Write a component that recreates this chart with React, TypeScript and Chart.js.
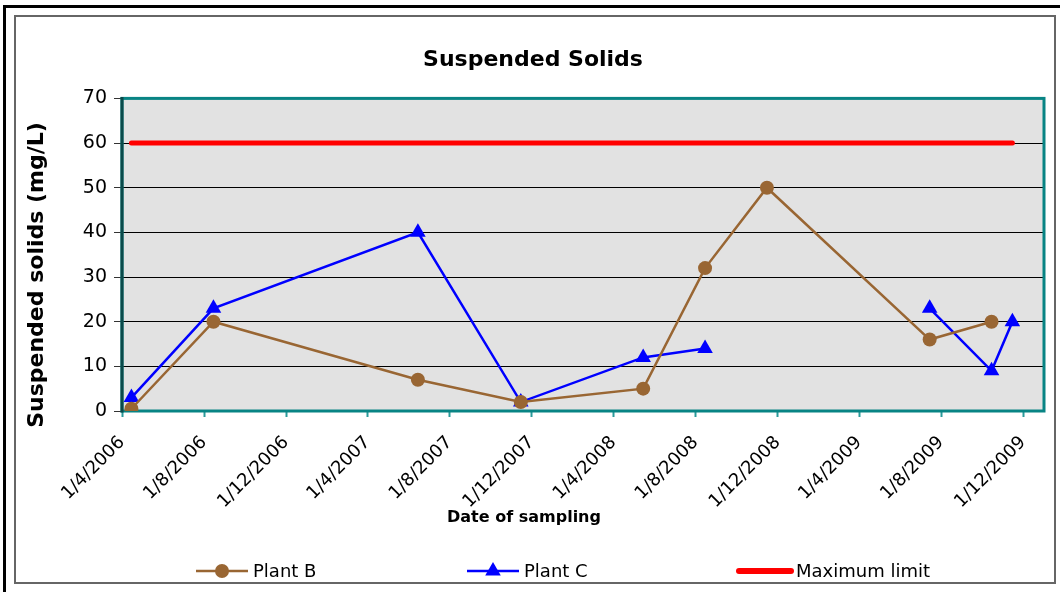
import { useEffect, useRef } from 'react';
import { Chart, registerables } from 'chart.js';

Chart.register(...registerables);

// ---- Data ----
const sampleDates = ['15/4/2006', '15/8/2006', '15/6/2007', '15/11/2007', '15/5/2008', '15/8/2008', '15/11/2008', '15/7/2009', '15/10/2009', '15/11/2009'];
const plantB: (number | null)[] = [0.5, 20, 7, 2, 5, 32, 50, 16, 20, null];
const plantC: (number | null)[] = [3, 23, 40, 2, 12, 14, null, 23, 9, 20];
const maxLimit: (number | null)[] = [60, 60, 60, 60, 60, 60, 60, 60, 60, 60];
const tickLabels = ['1/4/2006', '1/8/2006', '1/12/2006', '1/4/2007', '1/8/2007', '1/12/2007', '1/4/2008', '1/8/2008', '1/12/2008', '1/4/2009', '1/8/2009', '1/12/2009'];
const axisStart = '1/4/2006';
const axisEnd = '1/1/2010';
const yMin = 0;
const yMax = 70;
const yStep = 10;
const chartTitle = 'Suspended Solids';
const xTitle = 'Date of sampling';
const yTitle = 'Suspended solids (mg/L)';

const toDay = (s: string) => {
  const [d, m, y] = s.split('/').map(Number);
  return Date.UTC(y, m - 1, d) / 86400000;
};
const tickDays = tickLabels.map(toDay);

const FONT = 'DejaVu Sans';

const framePlugin = {
  id: 'frame',
  beforeDraw(chart: any) {
    const { ctx, chartArea } = chart;
    ctx.save();
    // outer black frame (top + left)
    ctx.fillStyle = '#000';
    ctx.fillRect(3, 5, 1057, 3);
    ctx.fillRect(3, 5, 3, 587);
    // inner gray frame
    ctx.strokeStyle = '#666';
    ctx.lineWidth = 2;
    ctx.strokeRect(15, 16, 1040, 567);
    // plot background
    ctx.fillStyle = '#E2E2E2';
    ctx.fillRect(chartArea.left, chartArea.top, chartArea.right - chartArea.left, chartArea.bottom - chartArea.top);
    ctx.restore();
  },
  beforeDatasetsDraw(chart: any) {
    const { ctx, chartArea } = chart;
    ctx.save();
    ctx.strokeStyle = '#088484';
    ctx.lineWidth = 3;
    ctx.strokeRect(chartArea.left, chartArea.top, chartArea.right - chartArea.left, chartArea.bottom - chartArea.top);
    ctx.strokeStyle = '#0A4A4A';
    ctx.beginPath();
    ctx.moveTo(chartArea.left, chartArea.top - 1.5);
    ctx.lineTo(chartArea.left, chartArea.bottom + 1.5);
    ctx.stroke();
    ctx.restore();
  },
  afterDraw(chart: any) {
    const { ctx } = chart;
    ctx.save();
    // axis titles
    ctx.fillStyle = '#000';
    ctx.textAlign = 'center';
    ctx.textBaseline = 'middle';
    ctx.font = `bold 16px "${FONT}"`;
    ctx.fillText(xTitle, 524, 518);
    ctx.save();
    ctx.translate(37, 275);
    ctx.rotate(-Math.PI / 2);
    ctx.font = `bold 22px "${FONT}"`;
    ctx.fillText(yTitle, 0, 0);
    ctx.restore();

    // legend
    const starts = [196, 467, 739];
    const y = 571;
    chart.data.datasets.forEach((ds: any, i: number) => {
      const x = starts[i];
      ctx.strokeStyle = ds.borderColor;
      ctx.lineWidth = ds.legendLineWidth;
      ctx.lineCap = ds.borderCapStyle || 'butt';
      ctx.beginPath();
      ctx.moveTo(x, y);
      ctx.lineTo(x + 52, y);
      ctx.stroke();
      ctx.fillStyle = ds.pointBackgroundColor;
      if (ds.pointRadius > 0) {
        const cx = x + 26;
        if (ds.pointStyle === 'triangle') {
          const r = ds.pointRadius;
          ctx.beginPath();
          ctx.moveTo(cx, y - r);
          ctx.lineTo(cx + r * Math.sin(2 * Math.PI / 3), y - r * Math.cos(2 * Math.PI / 3));
          ctx.lineTo(cx + r * Math.sin(4 * Math.PI / 3), y - r * Math.cos(4 * Math.PI / 3));
          ctx.closePath();
          ctx.fill();
        } else {
          ctx.beginPath();
          ctx.arc(cx, y, ds.pointRadius, 0, Math.PI * 2);
          ctx.fill();
        }
      }
      ctx.fillStyle = '#000';
      ctx.font = `18px "${FONT}"`;
      ctx.textAlign = 'left';
      ctx.textBaseline = 'middle';
      ctx.fillText(ds.label, x + 57, y + 1);
    });
    ctx.restore();
  },
};

export default function App() {
  const ref = useRef<HTMLCanvasElement>(null);

  useEffect(() => {
    document.body.style.margin = '0';
    const xs = sampleDates.map(toDay);
    const chart = new Chart(ref.current as HTMLCanvasElement, {
      type: 'line',
      data: {
        datasets: [
          {
            label: 'Plant B',
            data: xs.map((x, i) => ({ x, y: plantB[i] })),
            borderColor: '#996633',
            backgroundColor: '#996633',
            pointBackgroundColor: '#996633',
            pointBorderColor: '#996633',
            borderWidth: 2.5,
            legendLineWidth: 2.5,
            pointStyle: 'circle',
            pointRadius: 7,
            pointBorderWidth: 0,
            tension: 0,
          } as any,
          {
            label: 'Plant C',
            data: xs.map((x, i) => ({ x, y: plantC[i] })),
            borderColor: '#0000FF',
            backgroundColor: '#0000FF',
            pointBackgroundColor: '#0000FF',
            pointBorderColor: '#0000FF',
            borderWidth: 2.5,
            legendLineWidth: 2.5,
            pointStyle: 'triangle',
            pointRadius: 9,
            pointBorderWidth: 0,
            tension: 0,
          } as any,
          {
            label: 'Maximum limit',
            data: xs.map((x, i) => ({ x, y: maxLimit[i] })),
            borderColor: '#FF0000',
            backgroundColor: '#FF0000',
            pointBackgroundColor: '#FF0000',
            borderWidth: 5,
            legendLineWidth: 6,
            borderCapStyle: 'round',
            pointRadius: 0,
            tension: 0,
          } as any,
        ],
      },
      options: {
        responsive: false,
        animation: false,
        layout: { padding: { left: 22, right: 16, top: 0, bottom: 60 } },
        plugins: {
          legend: { display: false },
          tooltip: { enabled: false },
          title: {
            display: true,
            text: chartTitle,
            color: '#000',
            font: { family: FONT, size: 22, weight: 'bold' },
            padding: { top: 47, bottom: 25 },
          },
        },
        scales: {
          x: {
            type: 'linear',
            min: toDay(axisStart),
            max: toDay(axisEnd),
            afterBuildTicks: (scale: any) => {
              scale.ticks = tickDays.map((v) => ({ value: v }));
            },
            afterFit: (scale: any) => {
              scale.height = 121;
            },
            border: { display: false },
            grid: {
              drawOnChartArea: false,
              drawTicks: true,
              tickLength: 6,
              tickColor: '#2A9A9A',
              tickWidth: 2,
            },
            ticks: {
              autoSkip: false,
              minRotation: 45,
              maxRotation: 45,
              padding: 15,
              color: '#000',
              font: { family: FONT, size: 18 },
              callback: (v: any) => {
                const i = tickDays.indexOf(Number(v));
                return i >= 0 ? tickLabels[i] : '';
              },
            },
          },
          y: {
            min: yMin,
            max: yMax,
            afterFit: (scale: any) => {
              scale.width = 100;
            },
            border: { display: false },
            grid: {
              color: '#000',
              lineWidth: 1,
              tickLength: 8,
              tickColor: '#333',
            },
            ticks: {
              stepSize: yStep,
              padding: 7,
              color: '#000',
              font: { family: FONT, size: 19 },
            },
          },
        },
      },
      plugins: [framePlugin],
    });
    return () => chart.destroy();
  }, []);

  return (
    <div style={{ position: 'relative', width: 1060, height: 592, background: '#fff' }}>
      <canvas ref={ref} width={1060} height={592} style={{ display: 'block', width: 1060, height: 592 }} />
    </div>
  );
}
